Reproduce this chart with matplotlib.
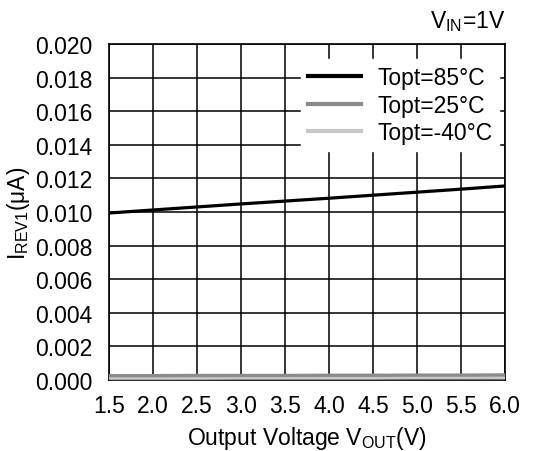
import matplotlib
matplotlib.use("Agg")
import matplotlib.pyplot as plt
import numpy as np

plt.rcParams['font.family'] = ['Liberation Sans', 'DejaVu Sans']
plt.rcParams['mathtext.fontset'] = 'custom'
plt.rcParams['mathtext.rm'] = 'Liberation Sans'

vout = [1.5, 2.0, 2.5, 3.0, 3.5, 4.0, 4.5, 5.0, 5.5, 6.0]
i_85 = [0.00994, 0.01012, 0.01030, 0.01048, 0.01065, 0.01082, 0.01100, 0.01118, 0.01136, 0.01155]
i_25 = [0.00026, 0.00026, 0.00027, 0.00027, 0.00027, 0.00028, 0.00028, 0.00029, 0.00029, 0.00030]
i_m40 = [0.00011, 0.00011, 0.00011, 0.00012, 0.00012, 0.00012, 0.00012, 0.00013, 0.00013, 0.00013]
labels = ['Topt=85°C', 'Topt=25°C', 'Topt=-40°C']
colors = ['#000000', '#8c8c8c', '#c8c8c8']
xticks = [1.5, 2.0, 2.5, 3.0, 3.5, 4.0, 4.5, 5.0, 5.5, 6.0]
yticks = [0.000, 0.002, 0.004, 0.006, 0.008, 0.010, 0.012, 0.014, 0.016, 0.018, 0.020]

FS = 16.5

fig = plt.figure(figsize=(5.5, 4.52), dpi=100)
ax = fig.add_axes([109/550, 1-381/452, (505-109)/550, (381-45)/452])

ax.plot(vout, i_m40, color=colors[2], lw=2.4, label=labels[2], zorder=3)
ax.plot(vout, i_25, color=colors[1], lw=2.4, label=labels[1], zorder=4)
ax.plot(vout, i_85, color=colors[0], lw=2.3, label=labels[0], zorder=5)

ax.set_xlim(1.5, 6.0)
ax.set_ylim(0.0, 0.020)
ax.set_xticks(xticks)
ax.set_xticklabels([f'{v:.1f}' for v in xticks])
ax.set_yticks(yticks)
ax.set_yticklabels([f'{v:.3f}' for v in yticks])
ax.grid(True, color='black', lw=1.1)
ax.set_axisbelow(True)
for s in ax.spines.values():
    s.set_linewidth(1.2)
ax.tick_params(axis='both', length=0, labelsize=FS)
ax.tick_params(axis='y', pad=12)
ax.tick_params(axis='x', pad=10)

ax.set_xlabel(r'Output Voltage V$_{\mathregular{OUT}}$(V)', fontsize=FS, labelpad=5)
ax.set_ylabel(r'I$_{\mathregular{REV1}}$(μA)', fontsize=FS, labelpad=2)

h, l = ax.get_legend_handles_labels()
order = [2, 1, 0]
leg = ax.legend([h[i] for i in order], [l[i] for i in order], loc='upper right',
                bbox_to_anchor=(0.985, 0.955), frameon=True, fontsize=FS,
                handlelength=2.3, handletextpad=0.7, labelspacing=0.2,
                borderpad=0.3, borderaxespad=0.0, fancybox=False)
leg.get_frame().set_facecolor('white')
leg.get_frame().set_edgecolor('white')
leg.get_frame().set_alpha(1)
for line in leg.get_lines():
    line.set_linewidth(3.0)

fig.text(505/550, 1-22/452, r'V$_{\mathregular{IN}}$=1V', ha='right', va='center', fontsize=FS)

fig.savefig('out.png', dpi=100)
